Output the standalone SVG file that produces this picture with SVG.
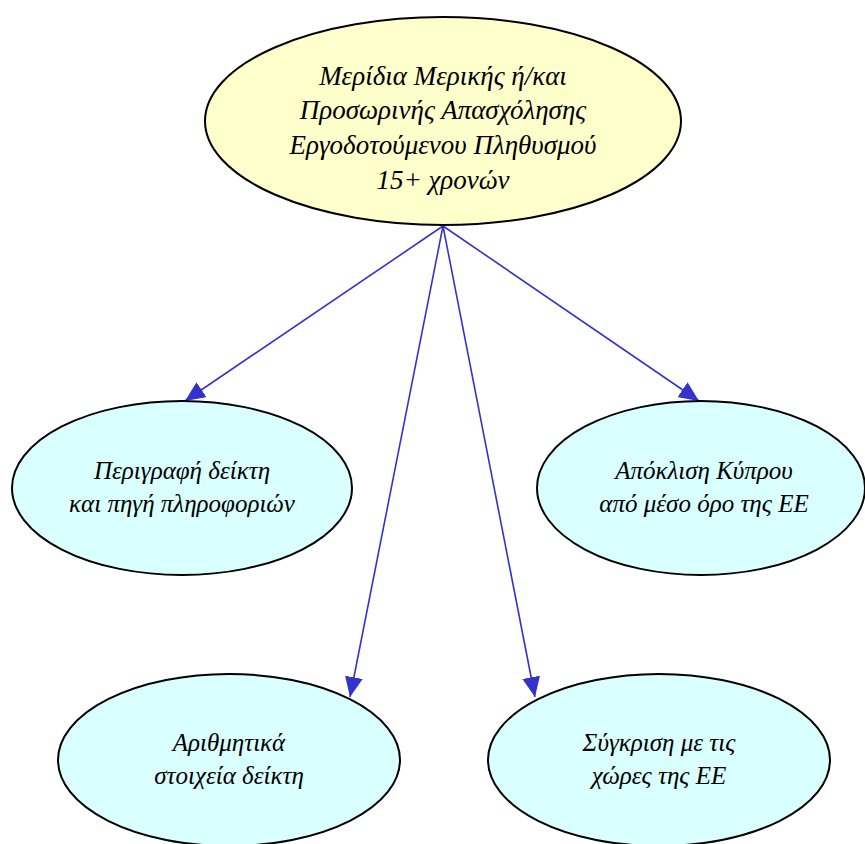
<svg xmlns="http://www.w3.org/2000/svg" width="865" height="844" viewBox="0 0 865 844">
<style>
.top{fill:#ffffcc;stroke:#000;stroke-width:2}
.sub{fill:#d9ffff;stroke:#000;stroke-width:2}
text{font-family:"Liberation Serif","DejaVu Serif",serif;font-style:italic;fill:#000;text-anchor:middle}
.t1{font-size:27px}
.t2{font-size:25px}
.edge{stroke:#3333cc;stroke-width:1.6;fill:none;marker-end:url(#ah)}
</style>
<defs>
<marker id="ah" markerWidth="22" markerHeight="18" refX="20" refY="9" orient="auto" markerUnits="userSpaceOnUse">
<path d="M0,0 L20,9 L0,18 Z" fill="#3333cc"/>
</marker>
</defs>
<rect width="865" height="844" fill="#fff"/>
<g id="connectors">
<line class="edge" x1="443" y1="226" x2="185" y2="401"/>
<line class="edge" x1="443" y1="226" x2="699" y2="401"/>
<line class="edge" x1="443" y1="226" x2="350" y2="697"/>
<line class="edge" x1="443" y1="226" x2="535" y2="697"/>
</g>
<g id="n0">
<ellipse class="top" cx="443" cy="121" rx="238" ry="104"/>
<text class="t1" x="443" y="85">Μερίδια Μερικής ή/και</text>
<text class="t1" x="443" y="119">Προσωρινής Απασχόλησης</text>
<text class="t1" x="443" y="154">Εργοδοτούμενου Πληθυσμού</text>
<text class="t1" x="443" y="189">15+ χρονών</text>
</g>
<g id="n1">
<ellipse class="sub" cx="182" cy="488" rx="170" ry="87"/>
<text class="t2" x="182" y="479">Περιγραφή δείκτη</text>
<text class="t2" x="182" y="512">και πηγή πληροφοριών</text>
</g>
<g id="n2">
<ellipse class="sub" cx="701" cy="488" rx="164" ry="87"/>
<text class="t2" x="704" y="479">Απόκλιση Κύπρου</text>
<text class="t2" x="704" y="512">από μέσο όρο της ΕΕ</text>
</g>
<g id="n3">
<ellipse class="sub" cx="229" cy="760" rx="171" ry="86"/>
<text class="t2" x="229" y="751">Αριθμητικά</text>
<text class="t2" x="229" y="784">στοιχεία δείκτη</text>
</g>
<g id="n4">
<ellipse class="sub" cx="659" cy="760" rx="171" ry="86"/>
<text class="t2" x="659" y="751">Σύγκριση με τις</text>
<text class="t2" x="659" y="784">χώρες της ΕΕ</text>
</g>
</svg>
